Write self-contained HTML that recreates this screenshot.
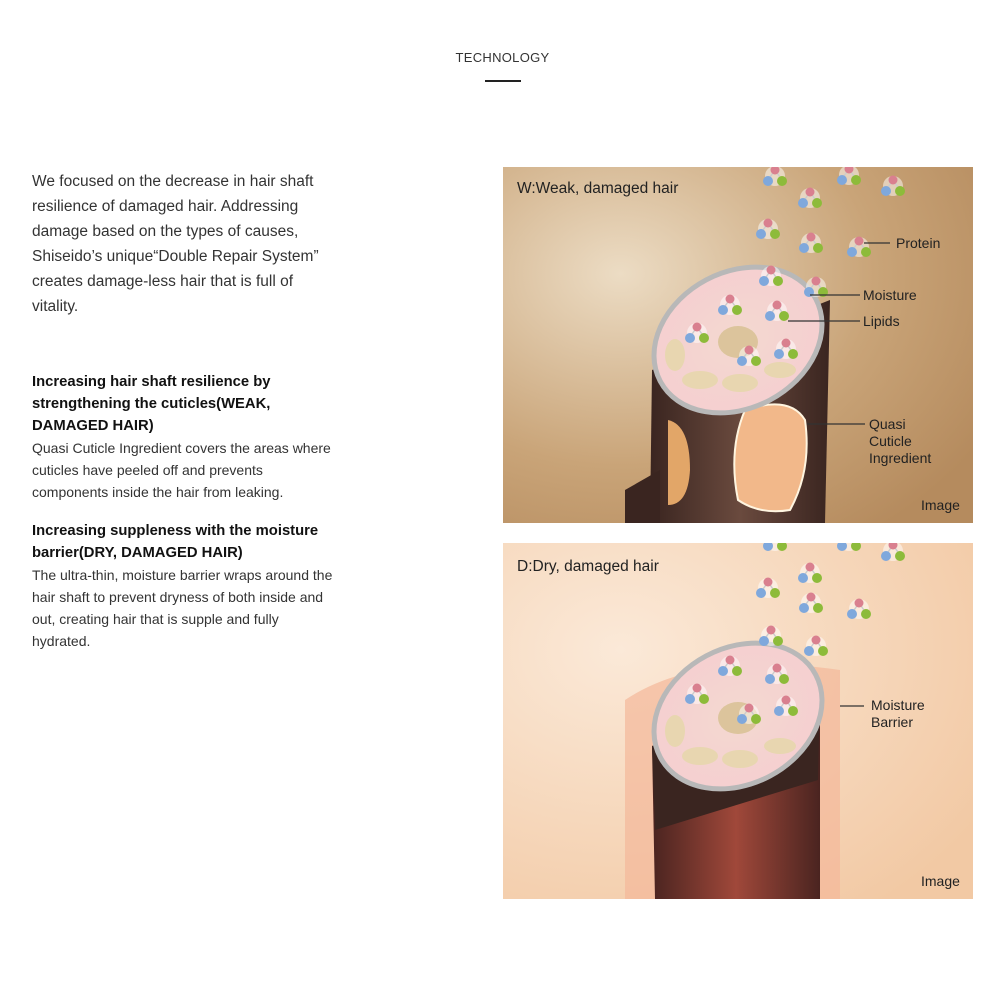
<!DOCTYPE html>
<html><head><meta charset="utf-8"><style>
body{margin:0;width:1000px;height:1003px;background:#fff;font-family:"Liberation Sans",sans-serif;color:#222;position:relative;overflow:hidden}
.t{position:absolute;white-space:nowrap}
</style></head><body>
<div class="t" style="left:0;width:1005px;text-align:center;top:50px;font-size:13px;letter-spacing:0.3px;color:#333">TECHNOLOGY</div>
<div style="position:absolute;left:485px;top:80px;width:36px;height:2px;background:#222"></div>
<div class="t" style="left:32px;top:169px;font-size:15.5px;line-height:25px;color:#333">We focused on the decrease in hair shaft<br>resilience of damaged hair. Addressing<br>damage based on the types of causes,<br>Shiseido’s unique“Double Repair System”<br>creates damage-less hair that is full of<br>vitality.</div>
<div class="t" style="left:32px;top:371px;font-size:14.8px;line-height:22px;font-weight:bold;color:#111">Increasing hair shaft resilience by<br>strengthening the cuticles(WEAK,<br>DAMAGED HAIR)</div>
<div class="t" style="left:32px;top:437px;font-size:14px;line-height:22px;color:#333">Quasi Cuticle Ingredient covers the areas where<br>cuticles have peeled off and prevents<br>components inside the hair from leaking.</div>
<div class="t" style="left:32px;top:520px;font-size:14.8px;line-height:22px;font-weight:bold;color:#111">Increasing suppleness with the moisture<br>barrier(DRY, DAMAGED HAIR)</div>
<div class="t" style="left:32px;top:564px;font-size:14px;line-height:22px;color:#333">The ultra-thin, moisture barrier wraps around the<br>hair shaft to prevent dryness of both inside and<br>out, creating hair that is supple and fully<br>hydrated.</div>

<svg style="position:absolute;left:0;top:0" width="1000" height="1003">
<defs>
<radialGradient id="bg1" cx="0.25" cy="0.3" r="0.9"><stop offset="0" stop-color="#ecdcc4"/><stop offset="0.6" stop-color="#c9a478"/><stop offset="1" stop-color="#b58b5e"/></radialGradient>
<radialGradient id="bg2" cx="0.25" cy="0.3" r="0.9"><stop offset="0" stop-color="#fbe9d8"/><stop offset="1" stop-color="#f2c9a4"/></radialGradient>
<linearGradient id="br" x1="0" x2="1"><stop offset="0" stop-color="#3a2520"/><stop offset="0.5" stop-color="#6a4a3e"/><stop offset="1" stop-color="#3a2520"/></linearGradient>
<linearGradient id="rd" x1="0" x2="1"><stop offset="0" stop-color="#4a2420"/><stop offset="0.5" stop-color="#a0483a"/><stop offset="1" stop-color="#4a2420"/></linearGradient>
<radialGradient id="cap"><stop offset="0" stop-color="#f3d9d0"/><stop offset="1" stop-color="#f5cfd0"/></radialGradient>
<g id="m"><circle cx="0" cy="6" r="10" fill="#fff" opacity="0.5"/><line x1="0" y1="0" x2="-7" y2="10" stroke="#ccc" stroke-width="1.5"/><line x1="0" y1="0" x2="7" y2="10" stroke="#ccc" stroke-width="1.5"/><circle cx="0" cy="0" r="4.5" fill="#d9808f"/><circle cx="-7" cy="11" r="5" fill="#7fa8dc"/><circle cx="7" cy="11" r="5" fill="#8dbb3a"/></g>
<clipPath id="c1"><rect x="503" y="167" width="470" height="356"/></clipPath>
<clipPath id="c2"><rect x="503" y="543" width="470" height="356"/></clipPath>
</defs>
<g clip-path="url(#c1)">
<rect x="503" y="167" width="470" height="356" fill="url(#bg1)"/>
<path d="M652 370 L830 300 L825 523 L650 523 Z" fill="url(#br)"/>
<path d="M625 490 L660 470 L660 523 L625 523Z" fill="#3a2520"/>
<path d="M668 420 Q690 425 690 470 Q688 505 668 505Z" fill="#e2a668"/>
<path d="M745 410 Q790 395 805 420 Q812 470 790 510 Q760 515 738 500 Q728 450 745 410Z" fill="#f2b88a" stroke="#fff5e0" stroke-width="2"/>
<ellipse cx="738" cy="340" rx="88" ry="68" transform="rotate(-28 738 340)" fill="url(#cap)" stroke="#b8b8b8" stroke-width="5"/>
<ellipse cx="738" cy="342" rx="20" ry="16" fill="#dcc49c"/>
<ellipse cx="700" cy="380" rx="18" ry="9" fill="#e8d6b0"/><ellipse cx="740" cy="383" rx="18" ry="9" fill="#e8d6b0"/><ellipse cx="675" cy="355" rx="10" ry="16" fill="#e8d6b0"/><ellipse cx="780" cy="370" rx="16" ry="8" fill="#e8d6b0"/>
<g>
<use href="#m" x="775" y="170"/><use href="#m" x="849" y="169"/><use href="#m" x="893" y="180"/><use href="#m" x="810" y="192"/><use href="#m" x="768" y="223"/><use href="#m" x="811" y="237"/><use href="#m" x="859" y="241"/><use href="#m" x="771" y="270"/><use href="#m" x="816" y="281"/><use href="#m" x="730" y="299"/><use href="#m" x="777" y="305"/><use href="#m" x="697" y="327"/><use href="#m" x="749" y="350"/><use href="#m" x="786" y="343"/>
</g>
<g stroke="#333" stroke-width="1.2"><line x1="864" y1="243" x2="890" y2="243"/><line x1="810" y1="295" x2="860" y2="295"/><line x1="788" y1="321" x2="860" y2="321"/><line x1="807" y1="424" x2="865" y2="424"/></g>
<g font-size="14" fill="#222"><text x="896" y="248">Protein</text><text x="863" y="300">Moisture</text><text x="863" y="326">Lipids</text><text x="869" y="429">Quasi</text><text x="869" y="446">Cuticle</text><text x="869" y="463">Ingredient</text><text x="921" y="510">Image</text></g>
<text x="517" y="193" font-size="15.5" fill="#222">W:Weak, damaged hair</text>
</g>
<g clip-path="url(#c2)">
<rect x="503" y="543" width="470" height="356" fill="url(#bg2)"/>
<path d="M625 700 Q700 650 840 670 L840 899 L625 899Z" fill="#f3b89a" opacity="0.7"/>
<path d="M652 746 L820 690 L820 899 L655 899 Z" fill="url(#rd)"/>
<path d="M652 746 L820 690 L818 780 L655 830 Z" fill="#3a2520"/>
<ellipse cx="738" cy="716" rx="88" ry="68" transform="rotate(-28 738 716)" fill="url(#cap)" stroke="#b8b8b8" stroke-width="5"/>
<ellipse cx="738" cy="718" rx="20" ry="16" fill="#dcc49c"/>
<ellipse cx="700" cy="756" rx="18" ry="9" fill="#e8d6b0"/><ellipse cx="740" cy="759" rx="18" ry="9" fill="#e8d6b0"/><ellipse cx="675" cy="731" rx="10" ry="16" fill="#e8d6b0"/><ellipse cx="780" cy="746" rx="16" ry="8" fill="#e8d6b0"/>
<g>
<use href="#m" x="775" y="535"/><use href="#m" x="849" y="535"/><use href="#m" x="893" y="545"/><use href="#m" x="810" y="567"/><use href="#m" x="768" y="582"/><use href="#m" x="811" y="597"/><use href="#m" x="859" y="603"/><use href="#m" x="771" y="630"/><use href="#m" x="816" y="640"/><use href="#m" x="730" y="660"/><use href="#m" x="777" y="668"/><use href="#m" x="697" y="688"/><use href="#m" x="749" y="708"/><use href="#m" x="786" y="700"/>
</g>
<line x1="840" y1="706" x2="864" y2="706" stroke="#333" stroke-width="1.2"/>
<g font-size="14" fill="#222"><text x="871" y="710">Moisture</text><text x="871" y="727">Barrier</text><text x="921" y="886">Image</text></g>
<text x="517" y="571" font-size="15.5" fill="#222">D:Dry, damaged hair</text>
</g>
</svg>
</body></html>
